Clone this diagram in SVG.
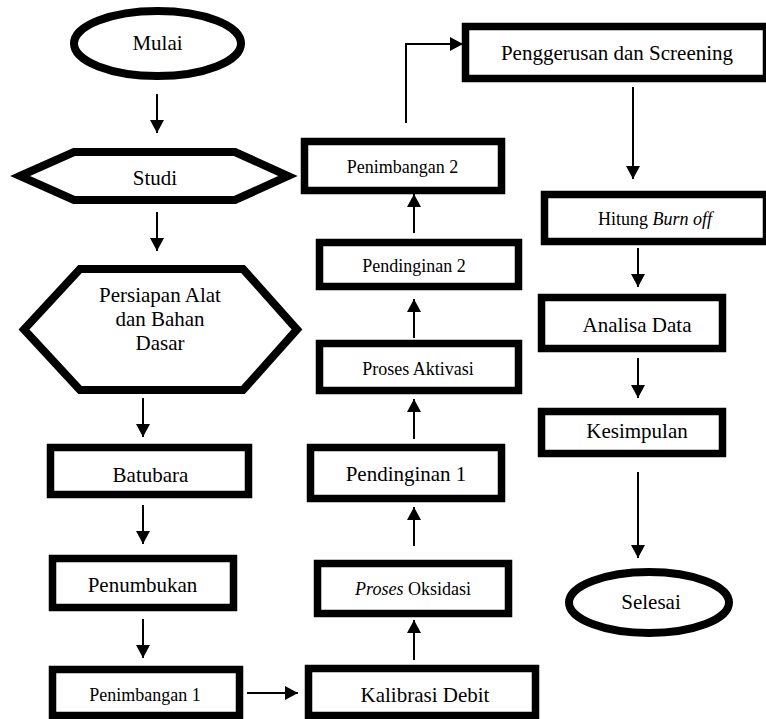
<svg xmlns="http://www.w3.org/2000/svg" width="766" height="719" viewBox="0 0 766 719" font-family="Liberation Serif, serif">
<style>
.box{fill:#fff;stroke:#000;stroke-width:7.5}
.shape{fill:#fff;stroke:#000;stroke-width:8;stroke-linejoin:miter}
text{font-size:21px;fill:#000;text-anchor:middle}
.s{font-size:18px}
.c{fill:none;stroke:#000;stroke-width:2}
</style>
<defs>
<marker id="ah" markerUnits="userSpaceOnUse" markerWidth="14" markerHeight="14" refX="13" refY="7" orient="auto">
<path d="M0,0 L13,7 L0,14 z" fill="#000"/>
</marker>
</defs>
<rect width="766" height="719" fill="#fff"/>

<g id="connectors">
<line class="c" x1="157" y1="94" x2="157" y2="133" marker-end="url(#ah)"/>
<line class="c" x1="157" y1="212" x2="157" y2="251" marker-end="url(#ah)"/>
<line class="c" x1="143" y1="398" x2="143" y2="437" marker-end="url(#ah)"/>
<line class="c" x1="143" y1="505" x2="143" y2="544" marker-end="url(#ah)"/>
<line class="c" x1="143" y1="619" x2="143" y2="658" marker-end="url(#ah)"/>
<line class="c" x1="247" y1="693" x2="298" y2="693" marker-end="url(#ah)"/>
<line class="c" x1="414" y1="660" x2="414" y2="620" marker-end="url(#ah)"/>
<line class="c" x1="414" y1="546" x2="414" y2="507" marker-end="url(#ah)"/>
<line class="c" x1="414" y1="439" x2="414" y2="399" marker-end="url(#ah)"/>
<line class="c" x1="414" y1="338" x2="414" y2="299" marker-end="url(#ah)"/>
<line class="c" x1="414" y1="233" x2="414" y2="194" marker-end="url(#ah)"/>
<polyline class="c" points="406,123 406,44 463,44" marker-end="url(#ah)"/>
<line class="c" x1="633" y1="87" x2="633" y2="179" marker-end="url(#ah)"/>
<line class="c" x1="638" y1="248" x2="638" y2="287" marker-end="url(#ah)"/>
<line class="c" x1="638" y1="358" x2="638" y2="398" marker-end="url(#ah)"/>
<line class="c" x1="638" y1="472" x2="638" y2="558" marker-end="url(#ah)"/>
</g>

<g id="mulai">
<ellipse class="shape" cx="157.5" cy="43.5" rx="83.5" ry="32.5"/>
<text x="157.5" y="50" font-family="Liberation Serif, serif">Mulai</text>
</g>

<g id="studi">
<polygon class="shape" points="20,176 74,152 235,152 288,176 235,200 74,200"/>
<text x="155" y="185" font-family="Liberation Serif, serif">Studi</text>
</g>

<g id="persiapan">
<polygon class="shape" points="24,329.5 80,269 243,269 297,329.5 243,390 80,390"/>
<text x="160" y="302" font-family="Liberation Serif, serif">Persiapan Alat</text>
<text x="160" y="326" font-family="Liberation Serif, serif">dan Bahan</text>
<text x="160" y="350" font-family="Liberation Serif, serif">Dasar</text>
</g>

<g id="batubara">
<rect class="box" x="50.5" y="447.5" width="198" height="47"/>
<text x="150.5" y="482" font-family="Liberation Serif, serif">Batubara</text>
</g>

<g id="penumbukan">
<rect class="box" x="52.5" y="558.5" width="181" height="49"/>
<text x="142.5" y="592" font-family="Liberation Serif, serif">Penumbukan</text>
</g>

<g id="penimbangan1">
<rect class="box" x="52.5" y="669.5" width="187" height="46"/>
<text class="s" x="145" y="701" font-family="Liberation Serif, serif">Penimbangan 1</text>
</g>

<g id="kalibrasi">
<rect class="box" x="308.5" y="668.5" width="227" height="47"/>
<text x="425" y="702" font-family="Liberation Serif, serif">Kalibrasi Debit</text>
</g>

<g id="oksidasi">
<rect class="box" x="317.5" y="563.5" width="191" height="50"/>
<text class="s" x="413" y="595" font-family="Liberation Serif, serif"><tspan font-style="italic">Proses</tspan> Oksidasi</text>
</g>

<g id="pendinginan1">
<rect class="box" x="310.5" y="447.5" width="191" height="51"/>
<text x="406" y="481" font-family="Liberation Serif, serif">Pendinginan 1</text>
</g>

<g id="aktivasi">
<rect class="box" x="319.5" y="343.5" width="199" height="47"/>
<text class="s" x="418" y="375" font-family="Liberation Serif, serif">Proses Aktivasi</text>
</g>

<g id="pendinginan2">
<rect class="box" x="319.5" y="242.5" width="199" height="44"/>
<text class="s" x="414" y="272" font-family="Liberation Serif, serif">Pendinginan 2</text>
</g>

<g id="penimbangan2">
<rect class="box" x="304.5" y="141.5" width="197" height="49"/>
<text class="s" x="402.5" y="173" font-family="Liberation Serif, serif">Penimbangan 2</text>
</g>

<g id="penggerusan">
<rect class="box" x="465.5" y="26.5" width="301" height="52"/>
<text x="617" y="60" font-family="Liberation Serif, serif">Penggerusan dan Screening</text>
</g>

<g id="hitung">
<rect class="box" x="544.5" y="194.5" width="222" height="47"/>
<text class="s" x="655" y="225" font-family="Liberation Serif, serif">Hitung <tspan font-style="italic">Burn off</tspan></text>
</g>

<g id="analisa">
<rect class="box" x="541.5" y="297.5" width="181" height="51"/>
<text x="637" y="332" font-family="Liberation Serif, serif">Analisa Data</text>
</g>

<g id="kesimpulan">
<rect class="box" x="541.5" y="411.5" width="181" height="42"/>
<text x="637" y="438" font-family="Liberation Serif, serif">Kesimpulan</text>
</g>

<g id="selesai">
<ellipse class="shape" cx="649" cy="602.5" rx="80" ry="30.5"/>
<text x="651" y="609" font-family="Liberation Serif, serif">Selesai</text>
</g>
</svg>
